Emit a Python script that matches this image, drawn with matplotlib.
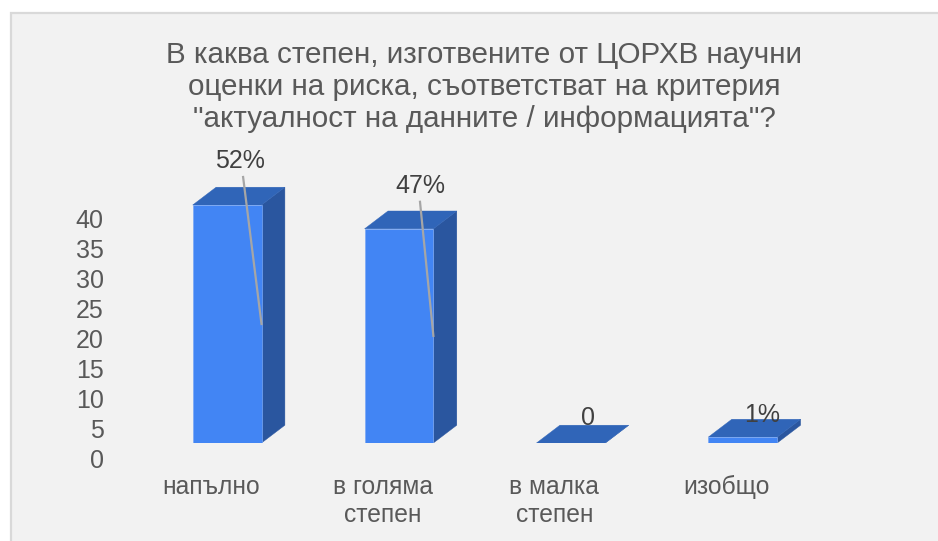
import matplotlib
matplotlib.use('Agg')
import matplotlib.pyplot as plt
from matplotlib.patches import Polygon, Rectangle

categories = ['напълно', 'в голяма\nстепен', 'в малка\nстепен', 'изобщо']
values = [40, 36, 0, 1]
value_labels = ['52%', '47%', '0', '1%']
y_ticks = [0, 5, 10, 15, 20, 25, 30, 35, 40]
title = 'В каква степен, изготвените от ЦОРХВ научни\nоценки на риска, съответстват на критерия\n"актуалност на данните / информацията"?'

# label centre relative to the top of the bar's front face, pixels (x right, y up)
label_offsets = [(13, 44), (21, 43), (17, 25), (19, 22)]
# start of the leader line relative to the same point, None means no line
leader_starts = [(16, 28), (21, 27), None, None]

W, H = 938, 541
plt.rcParams['font.family'] = ['Liberation Sans', 'DejaVu Sans']

fig = plt.figure(figsize=(W / 100, H / 100), dpi=100, facecolor='white')


def px_box(left, top, right, bottom):
    return [left / W, 1 - bottom / H, (right - left) / W, (bottom - top) / H]


# grey panel behind the chart
fig.patches.append(Rectangle((10.5 / W, -0.01), 1, 1 - 13 / H + 0.01, transform=fig.transFigure,
                             facecolor='#f2f2f2', edgecolor='#d9d9d9', linewidth=1.6, zorder=-1))

fig.text(484 / W, 1 - 87 / H, title, ha='center', va='center', fontsize=21.3,
         color='#595959', linespacing=1.17)

# bars: one category step = 171.9 px, one unit = 5.95 px
step = 171.9
unit = 5.95
ax = fig.add_axes(px_box(227.1 - step / 2, 443 - 50 * unit, 227.1 + 3.5 * step, 443))
ax.set_xlim(-0.5, 3.5)
ax.set_ylim(0, 50)
ax.axis('off')

bar_w = 68.8 / step
dx = 23.4 / step
dy = 17.8 / unit
front_c = '#4285f4'
top_c = '#3065b8'
side_c = '#2a569f'

for i, v in enumerate(values):
    x0 = i - bar_w / 2
    x1 = i + bar_w / 2
    ax.add_patch(Polygon([(x1, 0), (x1 + dx, dy), (x1 + dx, v + dy), (x1, v)], facecolor=side_c,
                         edgecolor=side_c, linewidth=0.3))
    ax.add_patch(Polygon([(x0, v), (x1, v), (x1 + dx, v + dy), (x0 + dx, v + dy)], facecolor=top_c,
                         edgecolor=top_c, linewidth=0.3))
    if v > 0:
        ax.add_patch(Polygon([(x0, 0), (x1, 0), (x1, v), (x0, v)], facecolor=front_c,
                             edgecolor='#7aa8f5', linewidth=0.5))

    ox, oy = label_offsets[i]
    ax.annotate(value_labels[i], xy=(i, v), xytext=(ox, oy), textcoords='offset pixels',
                ha='center', va='center', fontsize=18, color='#404040', zorder=5)
    if leader_starts[i] is not None:
        sx, sy = leader_starts[i]
        ax.plot([i + sx / step, x1], [v + sy / unit, v / 2], color='#a6a6a6', linewidth=1.6, zorder=4,
                clip_on=False)

    ax.annotate(categories[i], xy=(i, 0), xytext=(-16.5, -32), textcoords='offset pixels',
                ha='center', va='top', fontsize=17.7, color='#595959', linespacing=1.2)

# value axis sits lower than the bars because of the 3D floor
ax_y = fig.add_axes(px_box(108, 219, 109, 458))
ax_y.set_ylim(0, 40)
ax_y.set_xticks([])
ax_y.set_yticks(y_ticks)
ax_y.tick_params(axis='y', length=0, pad=3, labelsize=18, labelcolor='#595959')
ax_y.patch.set_visible(False)
for s in ax_y.spines.values():
    s.set_visible(False)

fig.savefig('out.png', dpi=100, facecolor='white')
